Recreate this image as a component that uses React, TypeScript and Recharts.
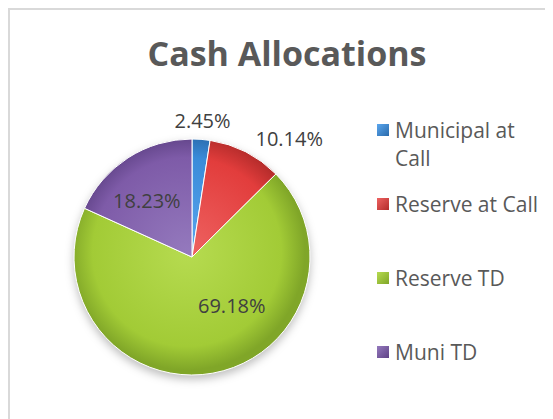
import { PieChart, Pie, Cell, Legend } from 'recharts'

const categories = ['Municipal at Call', 'Reserve at Call', 'Reserve TD', 'Muni TD']
const shares = [2.45, 10.14, 69.18, 18.23]

const baseColors = ['#3a8bd9', '#e23d3c', '#a2cb36', '#7e5ba8']
const lightColors = ['#5aa6ee', '#ee6261', '#b6db50', '#9479bd']
const darkColors = ['#2a6aab', '#b32b2a', '#80a628', '#5f4286']

// label placement, tuned to look like the original excel layout
const labelRadius = [137, 153, 63, 72]
const labelShift = [0, 12.4, -29, -6]

const RAD = Math.PI / 180
const CX = 177
const CY = 242
const R = 118

const data = categories.map((name, i) => ({ name, value: shares[i] }))

function renderLabel(props: any) {
  const { cx, cy, midAngle, index, percent } = props
  const theta = (90 - midAngle + labelShift[index]) * RAD
  const r = labelRadius[index]
  const x = cx + r * Math.sin(theta)
  const y = cy - r * Math.cos(theta)
  return (
    <text
      x={x}
      y={y}
      textAnchor="middle"
      dominantBaseline="central"
      fill="#404040"
      fontSize={20}
      fontFamily="'Open Sans', sans-serif"
    >
      {(percent * 100).toFixed(2)}%
    </text>
  )
}

// keep the legend in data order (recharts sorts the payload by name)
function LegendContent() {
  return (
    <div style={{ fontFamily: "'Open Sans', sans-serif", fontSize: 21, color: '#595959' }}>
      {categories.map((name, i) => (
        <div key={name} style={{ display: 'flex', alignItems: 'flex-start', height: 74 }}>
          <span
            style={{
              width: 12,
              height: 12,
              marginTop: 8,
              marginRight: 6,
              background: `linear-gradient(135deg, ${lightColors[i]}, ${darkColors[i]})`,
              flexShrink: 0,
            }}
          />
          <span style={{ width: 150, lineHeight: '28px' }}>{name}</span>
        </div>
      ))}
    </div>
  )
}

export default function App() {
  return (
    <div
      style={{
        position: 'relative',
        width: 543,
        height: 409,
        borderLeft: '2px solid #d9d9d9',
        borderTop: '2px solid #d9d9d9',
        background: '#fff',
      }}
    >
      <style>{`.recharts-pie { filter: drop-shadow(0 4px 4px rgba(0,0,0,0.25)); }`}</style>
      <div
        style={{
          position: 'absolute',
          left: 0,
          top: 26,
          width: 554,
          textAlign: 'center',
          fontFamily: "'Open Sans', sans-serif",
          fontWeight: 700,
          fontSize: 34,
          lineHeight: '34px',
          color: '#595959',
          zIndex: 1,
        }}
      >
        Cash Allocations
      </div>
      <PieChart width={543} height={409}>
        <defs>
          {baseColors.map((c, i) => (
            <radialGradient
              key={i}
              id={`slice${i}`}
              gradientUnits="userSpaceOnUse"
              cx={CX}
              cy={CY}
              r={R}
            >
              <stop offset="0%" stopColor={lightColors[i]} />
              <stop offset="80%" stopColor={c} />
              <stop offset="100%" stopColor={darkColors[i]} />
            </radialGradient>
          ))}
        </defs>
        <Pie
          data={data}
          dataKey="value"
          nameKey="name"
          cx={CX}
          cy={CY}
          outerRadius={R}
          startAngle={90}
          endAngle={-270}
          stroke="#ffffff"
          strokeWidth={1}
          label={renderLabel}
          labelLine={false}
          isAnimationActive={false}
        >
          {data.map((_, i) => (
            <Cell key={i} fill={`url(#slice${i})`} />
          ))}
        </Pie>
        <Legend
          layout="vertical"
          verticalAlign="top"
          align="right"
          content={<LegendContent />}
          wrapperStyle={{ left: 367, top: 106, width: 172, right: 'auto' }}
        />
      </PieChart>
    </div>
  )
}
